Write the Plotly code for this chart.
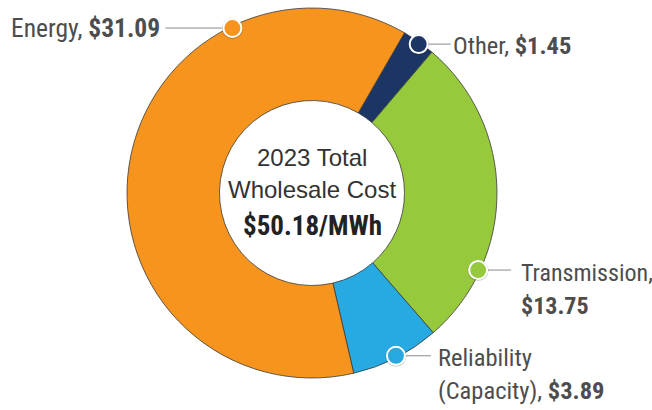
import math
import plotly.graph_objects as go

# ---- data ----
categories = ["Other", "Transmission", "Reliability", "Energy"]
values = [1.45, 13.75, 3.89, 31.09]
label_lines = [
    ["Other, <b>$1.45</b>"],
    ["Transmission,", "<b>$13.75</b>"],
    ["Reliability", "(Capacity), <b>$3.89</b>"],
    ["Energy, <b>$31.09</b>"],
]
total_label = "$50.18/MWh"
center_lines = ["2023 Total", "Wholesale Cost"]

# ---- style ----
colors = ["#1B3664", "#97C93D", "#27AAE1", "#F7941D"]
dot_frac = [0.54, 0.755, 0.49, 0.75]          # where along each slice the dot sits
leader_px = [32, 33, 35, -67]                 # leader line length (px), negative = leftwards
text_gap_px = [0, 8, 5, 3]
text_dy = [-1, -3, -2, 0]
label_size = [24.5, 24, 24.5, 25.5]

W, H = 652, 410
CX, CY, R = 312, 193, 185
ROT = 30
COND = "Roboto Condensed, DejaVu Sans Condensed, sans-serif"
REG = "Liberation Sans, Arial, sans-serif"

fig = go.Figure()
fig.add_trace(go.Pie(
    labels=categories, values=values, sort=False, direction="clockwise",
    rotation=ROT, hole=0.5, textinfo="none", hoverinfo="label+value",
    marker=dict(colors=colors, line=dict(color="#3a3a3a", width=0.8)),
    domain=dict(x=[(CX - R) / W, (CX + R) / W], y=[(H - CY - R) / H, (H - CY + R) / H]),
    showlegend=False,
))

# overlay axes in units of the donut radius, origin at donut centre
xr = [(0 - CX) / R, (W - CX) / R]
yr = [(CY - H) / R, (CY - 0) / R]

total = sum(values)
start = ROT
dx, dy = [], []
for v, f in zip(values, dot_frac):
    span = v / total * 360
    a = math.radians(start + f * span)
    dx.append(0.99 * math.sin(a))
    dy.append(0.99 * math.cos(a))
    start += span

shapes = []
annotations = []
for i in range(len(values)):
    x0, y0 = dx[i], dy[i]
    x1 = x0 + leader_px[i] / R
    shapes.append(dict(type="line", xref="x", yref="y", x0=x0, y0=y0, x1=x1, y1=y0,
                       line=dict(color="#8a8a8a", width=1), layer="above"))
    left = leader_px[i] < 0
    tx = x1 + (-1 if left else 1) * text_gap_px[i] / R
    for j, line in enumerate(label_lines[i]):
        annotations.append(dict(
            x=tx, y=y0, xref="x", yref="y", text=line, showarrow=False,
            xanchor="right" if left else "left", yanchor="middle", yshift=text_dy[i] - 33 * j,
            font=dict(family=COND, size=label_size[i], color="#4d4d4d"),
        ))

# dots on the ring (shapes so they sit above the pie layer)
for i in range(len(values)):
    shapes.append(dict(type="circle", xref="x", yref="y", xsizemode="pixel", ysizemode="pixel",
                       xanchor=dx[i], yanchor=dy[i], x0=-10.5, x1=10.5, y0=-11, y1=10,
                       fillcolor="rgba(0,0,0,0.18)", line=dict(width=0), layer="above"))
    shapes.append(dict(type="circle", xref="x", yref="y", xsizemode="pixel", ysizemode="pixel",
                       xanchor=dx[i], yanchor=dy[i], x0=-9, x1=9, y0=-9, y1=9,
                       fillcolor=colors[i], line=dict(color="white", width=2), layer="above"))

for j, t in enumerate(center_lines):
    annotations.append(dict(x=0, y=0, xref="x", yref="y", text=t, showarrow=False,
                            xanchor="center", yanchor="middle", yshift=36 - 32 * j,
                            font=dict(family=REG, size=24, color="#333333")))
annotations.append(dict(x=0, y=0, xref="x", yref="y", text="<b>" + total_label + "</b>",
                        showarrow=False, xanchor="center", yanchor="middle", yshift=-33,
                        font=dict(family=COND, size=27, color="#222222")))

fig.update_layout(
    width=W, height=H, margin=dict(l=0, r=0, t=0, b=0),
    paper_bgcolor="white", plot_bgcolor="rgba(0,0,0,0)",
    xaxis=dict(range=xr, domain=[0, 1], visible=False, fixedrange=True),
    yaxis=dict(range=yr, domain=[0, 1], visible=False, fixedrange=True),
    shapes=shapes, annotations=annotations,
)
fig.write_html("out.html", config={"displayModeBar": False},
               post_script="document.body.style.margin='0';")
